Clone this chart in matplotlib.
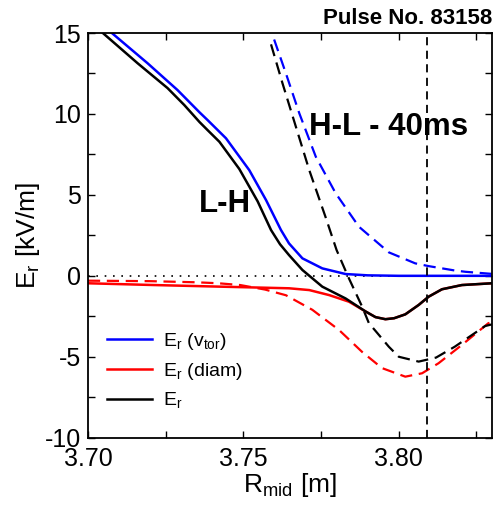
import matplotlib
matplotlib.use("Agg")
import matplotlib.pyplot as plt
from matplotlib.ticker import MultipleLocator, FormatStrFormatter

plt.rcParams['font.family'] = ['Liberation Sans', 'DejaVu Sans']
plt.rcParams['mathtext.fontset'] = 'custom'
plt.rcParams['mathtext.rm'] = 'Liberation Sans'
plt.rcParams['axes.unicode_minus'] = False

# L-H profiles (solid)
r_vtor = [3.7077, 3.7192, 3.7288, 3.7359, 3.7385, 3.7444, 3.7519, 3.7573,
          3.7621, 3.7647, 3.769, 3.7754, 3.7829, 3.79, 3.80, 3.83]
er_vtor = [15.0, 13.13, 11.48, 10.1, 9.62, 8.5, 6.53, 4.68,
           2.83, 2.0, 1.08, 0.46, 0.11, 0.03, 0.0, 0.0]

r_diam = [3.70, 3.7214, 3.7427, 3.7647, 3.7712, 3.7776, 3.784, 3.7893,
          3.7925, 3.7957, 3.7985, 3.8021, 3.8064, 3.8096, 3.8139, 3.8203, 3.83]
er_diam = [-0.46, -0.57, -0.67, -0.77, -0.88, -1.19, -1.6, -2.2,
           -2.55, -2.68, -2.62, -2.38, -1.8, -1.29, -0.83, -0.57, -0.46]

r_er = [3.7048, 3.716, 3.7256, 3.731, 3.7359, 3.7385, 3.7423, 3.7487,
        3.7546, 3.7589, 3.7618, 3.7647, 3.769, 3.7754, 3.7829, 3.7893,
        3.7925, 3.7957, 3.7985, 3.8021, 3.8064, 3.8096, 3.8139, 3.8203, 3.83]
er_er = [15.0, 13.13, 11.6, 10.55, 9.5, 9.0, 8.28, 6.6,
         4.6, 2.83, 1.95, 1.28, 0.36, -0.67, -1.4, -2.2,
         -2.55, -2.68, -2.62, -2.38, -1.8, -1.29, -0.83, -0.57, -0.46]

# H-L profiles (dashed)
r_vtor_hl = [3.7599, 3.7637, 3.768, 3.7733, 3.7797, 3.7872, 3.7968, 3.8053,
             3.8096, 3.818, 3.8214, 3.83]
er_vtor_hl = [14.6, 12.5, 10.04, 7.36, 5.1, 3.03, 1.45, 0.77,
              0.6, 0.33, 0.25, 0.12]

r_diam_hl = [3.70, 3.72, 3.735, 3.742, 3.749, 3.757, 3.7637, 3.7722, 3.7808,
             3.7882, 3.7946, 3.8021, 3.8075, 3.8128, 3.8203, 3.8288, 3.83]
er_diam_hl = [-0.3, -0.33, -0.4, -0.46, -0.57, -0.85, -1.2, -2.1, -3.35,
              -4.7, -5.7, -6.23, -6.02, -5.4, -4.27, -2.93, -2.85]

r_er_hl = [3.7589, 3.7626, 3.7669, 3.7712, 3.7765, 3.7800, 3.7837, 3.7882,
           3.7904, 3.7925, 3.7968, 3.8000, 3.8064, 3.8120, 3.8180, 3.8278, 3.83]
er_er_hl = [14.3, 11.89, 9.21, 6.53, 3.6, 1.59, -0.05, -1.9,
            -2.93, -3.4, -4.38, -5.0, -5.3, -5.05, -4.38, -3.1, -3.0]

r_sep = 3.809

fig = plt.figure(figsize=(4.94, 5.08), dpi=100)
ax = fig.add_axes([0.178, 0.1384, 0.818, 0.7966])

dash = (0, (5.5, 3))
ax.axhline(0, color='black', lw=1.2, ls=(0, (1, 4)))
ax.plot(r_diam_hl, er_diam_hl, color='red', lw=1.6, ls=dash)
ax.plot(r_vtor_hl, er_vtor_hl, color='blue', lw=1.6, ls=dash)
ax.plot(r_er_hl, er_er_hl, color='black', lw=1.6, ls=dash)
l1, = ax.plot(r_vtor, er_vtor, color='blue', lw=1.8, label=r'E$_\mathrm{r}$ (v$_\mathrm{tor}$)')
l2, = ax.plot(r_diam, er_diam, color='red', lw=1.8, label=r'E$_\mathrm{r}$ (diam)')
l3, = ax.plot(r_er, er_er, color='black', lw=1.8, label=r'E$_\mathrm{r}$')
ax.axvline(r_sep, color='black', lw=1.3, ls=(0, (4.5, 3)))

ax.set_xlim(3.70, 3.83)
ax.set_ylim(-10, 15)
ax.xaxis.set_major_locator(MultipleLocator(0.05))
ax.xaxis.set_minor_locator(MultipleLocator(0.025))
ax.yaxis.set_major_locator(MultipleLocator(5))
ax.yaxis.set_minor_locator(MultipleLocator(2.5))
ax.xaxis.set_major_formatter(FormatStrFormatter('%.2f'))
ax.tick_params(which='both', direction='in', top=True, right=True, width=1.0,
               length=5, labelsize=18, pad=5)
ax.tick_params(axis='x', pad=7)
for s in ax.spines.values():
    s.set_linewidth(1.3)

ax.set_xlabel(r'R$_\mathrm{mid}$ [m]', fontsize=19, labelpad=0)
ax.set_ylabel(r'E$_\mathrm{r}$ [kV/m]', fontsize=19, labelpad=2)

ax.text(3.83, 15.25, 'Pulse No. 83158', fontsize=16, fontweight='bold',
        ha='right', va='bottom')
ax.text(3.7966, 8.7, 'H-L - 40ms', fontsize=22.5, fontweight='bold',
        ha='center', va='baseline')
ax.text(3.7442, 3.96, 'L-H', fontsize=22.5, fontweight='bold',
        ha='center', va='baseline')

ax.legend(handles=[l1, l2, l3], loc='upper left', bbox_to_anchor=(0.047, 0.263),
          frameon=False, fontsize=14, handlelength=2.3, handletextpad=0.57,
          labelspacing=0.45, borderpad=0, borderaxespad=0)

fig.savefig('out.png', dpi=100)
